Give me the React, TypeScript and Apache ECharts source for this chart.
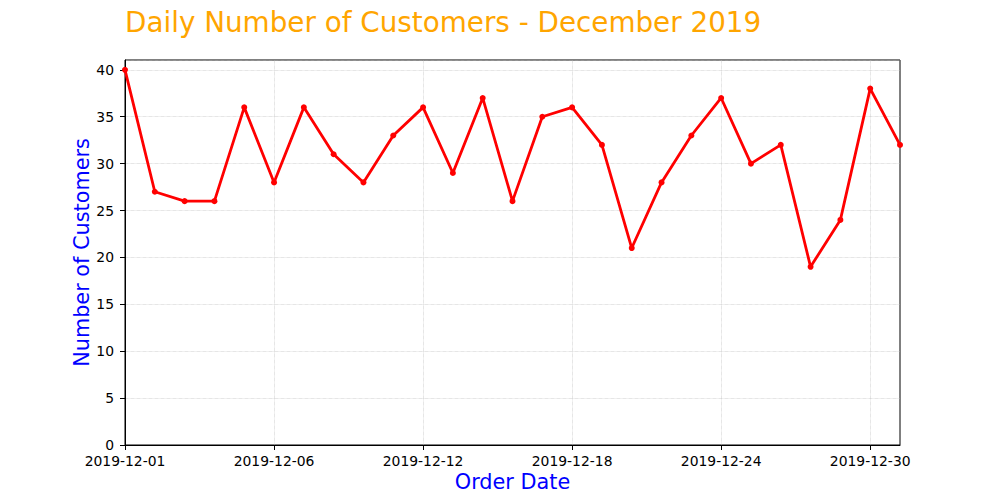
import React, { useEffect, useRef } from "react";
import * as echarts from "echarts";

const dates = [
  "2019-12-01", "2019-12-02", "2019-12-03", "2019-12-04", "2019-12-05",
  "2019-12-06", "2019-12-07", "2019-12-08", "2019-12-09", "2019-12-11",
  "2019-12-12", "2019-12-13", "2019-12-14", "2019-12-16", "2019-12-17",
  "2019-12-18", "2019-12-19", "2019-12-20", "2019-12-22", "2019-12-23",
  "2019-12-24", "2019-12-26", "2019-12-27", "2019-12-28", "2019-12-29",
  "2019-12-30", "2019-12-31",
];

const customers = [
  40, 27, 26, 26, 36, 28, 36, 31, 28, 33,
  36, 29, 37, 26, 35, 36, 32, 21, 28, 33,
  37, 30, 32, 19, 24, 38, 32,
];

const yMin = 0;
const yMax = 41.05;
const yInterval = 5;

const titleText = "Daily Number of Customers - December 2019";
const xName = "Order Date";
const yName = "Number of Customers";

const FONT = "DejaVu Sans";

export default function App() {
  const ref = useRef<HTMLDivElement>(null);

  useEffect(() => {
    document.body.style.margin = "0";
    if (!ref.current) return;
    const chart = echarts.init(ref.current, null, { renderer: "svg" });
    const gridLine = { show: true, lineStyle: { color: "#b8b8b8", width: 0.6, type: "dotted" as const } };
    chart.setOption({
      animation: false,
      backgroundColor: "#ffffff",
      title: {
        text: titleText,
        left: 125,
        top: 8,
        padding: 0,
        textStyle: { color: "#FFA500", fontSize: 27.8, fontWeight: "normal", fontFamily: FONT },
      },
      grid: {
        left: 125,
        right: 100,
        top: 60,
        bottom: 55,
        show: true,
        borderColor: "#000000",
        borderWidth: 1,
        backgroundColor: "transparent",
      },
      xAxis: {
        type: "category",
        data: dates,
        boundaryGap: false,
        name: xName,
        nameLocation: "middle",
        nameGap: 26,
        nameMoveOverlap: false,
        nameTextStyle: { color: "#0000FF", fontSize: 20.8, fontFamily: FONT },
        axisLine: { show: true, lineStyle: { color: "#000", width: 1 } },
        axisTick: { show: true, interval: 4, length: 5, lineStyle: { color: "#000", width: 1 } },
        axisLabel: { interval: 4, margin: 9, color: "#000", fontSize: 13.9, fontFamily: FONT },
        splitLine: { ...gridLine, interval: 4 },
      },
      yAxis: {
        type: "value",
        min: yMin,
        max: yMax,
        interval: yInterval,
        name: yName,
        nameLocation: "middle",
        nameGap: 33,
        nameMoveOverlap: false,
        nameTextStyle: { color: "#0000FF", fontSize: 20.8, fontFamily: FONT },
        axisLine: { show: true, lineStyle: { color: "#000", width: 1 } },
        axisTick: { show: true, length: 5, lineStyle: { color: "#000", width: 1 } },
        axisLabel: { showMaxLabel: false, margin: 11, color: "#000", fontSize: 13.9, fontFamily: FONT },
        splitLine: gridLine,
      },
      series: [
        {
          type: "line",
          data: customers,
          symbol: "circle",
          symbolSize: 6,
          showAllSymbol: true,
          lineStyle: { color: "#FF0000", width: 2.8 },
          itemStyle: { color: "#FF0000" },
        },
      ],
    });
    return () => chart.dispose();
  }, []);

  return <div ref={ref} style={{ width: 1000, height: 500 }} />;
}
